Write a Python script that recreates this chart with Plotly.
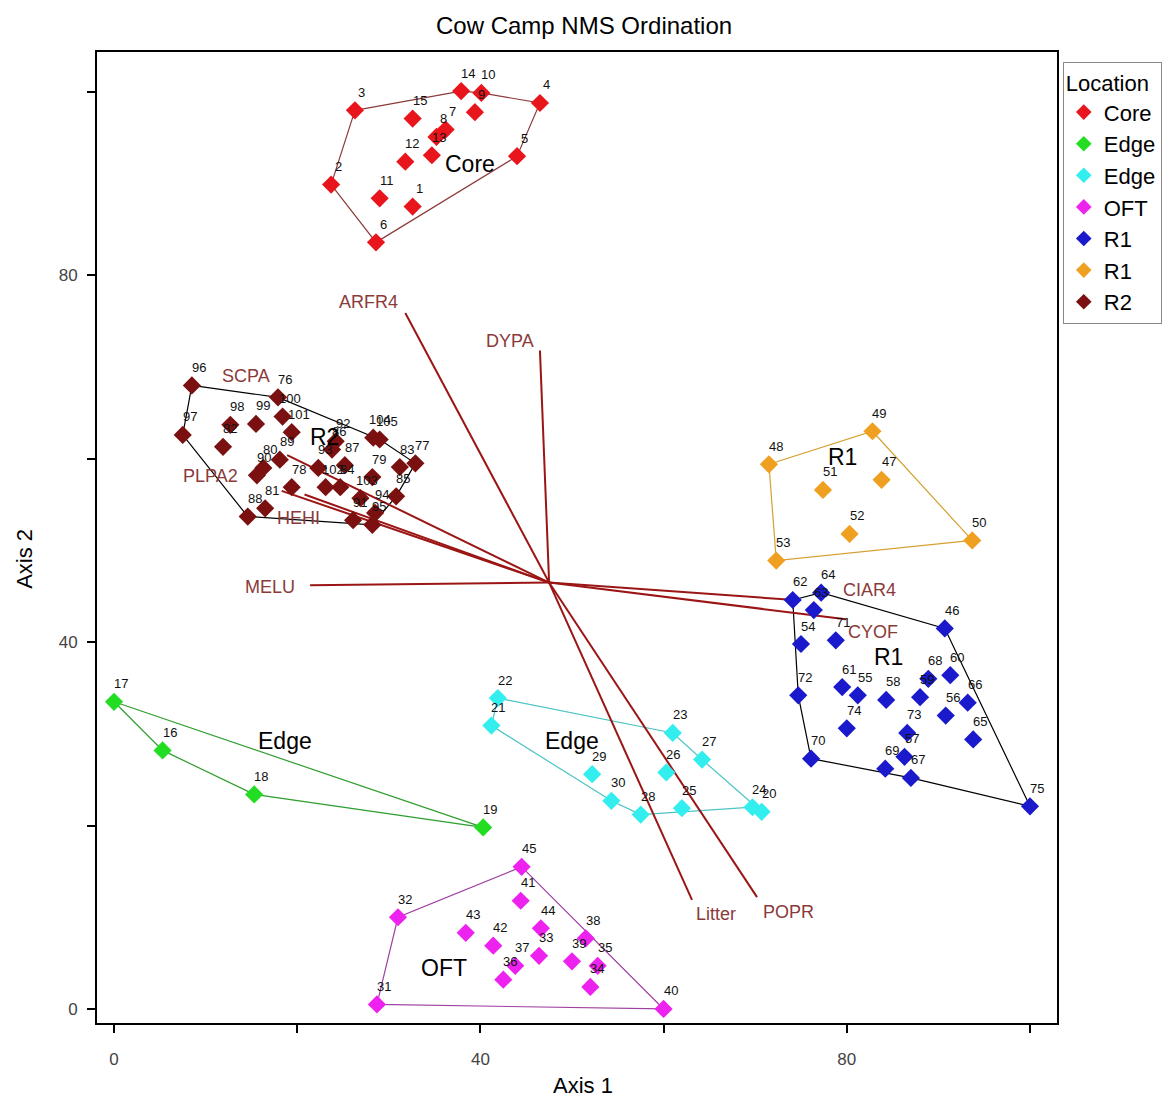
import plotly.graph_objects as go

# ---------------- data ----------------
core_ids = ["1","2","3","4","5","6","7","8","9","10","11","12","13","14","15"]
core_x = [32.6, 23.7, 26.3, 46.5, 44.0, 28.6, 36.2, 35.2, 39.4, 40.1, 29.0, 31.8, 34.7, 37.9, 32.6]
core_y = [87.5, 89.9, 98.0, 98.8, 93.0, 83.6, 95.9, 95.1, 97.8, 99.9, 88.4, 92.4, 93.1, 100.1, 97.1]
core_hull = ["3","14","10","4","5","6","2","3"]

edgeg_ids = ["16","17","18","19"]
edgeg_x = [5.3, 0.0, 15.3, 40.3]
edgeg_y = [28.2, 33.5, 23.4, 19.8]
edgeg_hull = ["17","19","18","16","17"]

edgec_ids = ["20","21","22","23","24","25","26","27","28","29","30"]
edgec_x = [70.7, 41.2, 41.9, 61.0, 69.7, 62.0, 60.3, 64.2, 57.5, 52.2, 54.3]
edgec_y = [21.5, 30.9, 33.9, 30.1, 22.0, 21.9, 25.8, 27.2, 21.2, 25.6, 22.7]
edgec_hull = ["22","23","27","20","24","28","30","21","22"]

oft_ids = ["31","32","33","34","35","36","37","38","39","40","41","42","43","44","45"]
oft_x = [28.7, 31.0, 46.4, 52.0, 52.8, 42.5, 43.8, 51.5, 50.0, 60.0, 44.4, 41.4, 38.4, 46.6, 44.5]
oft_y = [0.5, 10.0, 5.8, 2.4, 4.7, 3.2, 4.7, 7.7, 5.2, 0.0, 11.8, 6.9, 8.3, 8.8, 15.5]
oft_hull = ["45","40","31","32","45"]

r1b_ids = ["46","54","55","56","57","58","59","60","61","62","63","64","65","66","67","68","69","70","71","72","73","74","75"]
r1b_x = [90.7, 75.0, 81.2, 90.8, 86.3, 84.3, 88.0, 91.3, 79.5, 74.1, 76.4, 77.2, 93.8, 93.2, 87.0, 88.9, 84.2, 76.1, 78.8, 74.7, 86.6, 80.0, 100.0]
r1b_y = [41.5, 39.8, 34.2, 32.0, 27.5, 33.7, 34.0, 36.4, 35.1, 44.6, 43.5, 45.4, 29.4, 33.4, 25.2, 36.0, 26.2, 27.3, 40.2, 34.2, 30.1, 30.6, 22.1]
r1b_hull = ["62","64","46","75","67","70","72","62"]

r1o_ids = ["47","48","49","50","51","52","53"]
r1o_x = [83.8, 71.5, 82.8, 93.7, 77.4, 80.3, 72.3]
r1o_y = [57.7, 59.4, 63.0, 51.1, 56.6, 51.8, 48.9]
r1o_hull = ["48","49","50","53","48"]

r2_ids = ["76","77","78","79","80","81","82","83","84","85","86","87","88","89","90",
          "91","92","93","94","95","96","97","98","99","100","101","102","103","104","105"]
r2_x = [17.9, 32.9, 19.4, 28.2, 16.3, 16.5, 11.9, 31.2, 24.7, 30.8, 23.8, 25.2, 14.6, 18.1, 15.6,
        26.1, 24.2, 22.3, 28.5, 28.2, 8.5, 7.5, 12.7, 15.5, 18.4, 19.4, 23.1, 26.9, 28.3, 29.0]
r2_y = [66.7, 59.5, 56.9, 58.0, 59.0, 54.6, 61.3, 59.1, 56.9, 55.9, 61.0, 59.3, 53.7, 59.9, 58.2,
        53.3, 61.9, 59.0, 54.1, 52.8, 68.0, 62.6, 63.7, 63.8, 64.6, 62.9, 56.9, 55.7, 62.3, 62.1]
r2_hull = ["96","76","105","77","85","95","88","97","96"]

# biplot vectors (origin, tips, label positions)
vec_origin = (47.5, 46.5)
vec_names = ["ARFR4", "DYPA", "SCPA", "PLPA2", "HEHI", "MELU", "CIAR4", "CYOF", "Litter", "POPR"]
vec_x = [31.8, 46.5, 18.9, 18.3, 20.8, 21.4, 74.3, 79.9, 63.1, 70.2]
vec_y = [75.9, 71.8, 60.4, 56.5, 56.1, 46.2, 44.6, 42.5, 11.9, 12.2]
vec_lab_x = [27.8, 43.2, 14.4, 10.5, 20.1, 17.0, 82.5, 82.9, 65.7, 73.6]
vec_lab_y = [77.1, 72.8, 69.0, 58.1, 53.5, 46.0, 45.7, 41.1, 10.4, 10.6]

group_names = ["Core", "R2", "R1", "R1", "Edge", "Edge", "OFT"]
group_lab_x = [38.9, 23.0, 79.5, 84.5, 18.7, 50.0, 36.0]
group_lab_y = [92.1, 62.4, 60.2, 38.4, 29.2, 29.2, 4.5]

x_ticks = [0, 20, 40, 60, 80, 100]
x_ticktext = ["0", "", "40", "", "80", ""]
y_ticks = [0, 20, 40, 60, 80, 100]
y_ticktext = ["0", "", "40", "", "80", ""]

# ---------------- figure ----------------
FONT = "Arial, Liberation Sans, sans-serif"
groups = [
    ("Core", core_ids, core_x, core_y, core_hull, "#E8161C", "#8B3A3A"),
    ("Edge", edgeg_ids, edgeg_x, edgeg_y, edgeg_hull, "#22DD22", "#2E9E2E"),
    ("Edge", edgec_ids, edgec_x, edgec_y, edgec_hull, "#33EEEE", "#4CC4C4"),
    ("OFT", oft_ids, oft_x, oft_y, oft_hull, "#EE22EE", "#A040A0"),
    ("R1", r1b_ids, r1b_x, r1b_y, r1b_hull, "#1A1ACC", "#000000"),
    ("R1", r1o_ids, r1o_x, r1o_y, r1o_hull, "#F0A020", "#D4A030"),
    ("R2", r2_ids, r2_x, r2_y, r2_hull, "#7A1010", "#000000"),
]

fig = go.Figure()

# hulls
for name, ids, xs, ys, hull, mcol, lcol in groups:
    idx = {k: i for i, k in enumerate(ids)}
    hx = [xs[idx[k]] for k in hull]
    hy = [ys[idx[k]] for k in hull]
    fig.add_trace(go.Scatter(x=hx, y=hy, mode="lines", line=dict(color=lcol, width=1.2),
                             showlegend=False, hoverinfo="skip"))

# vectors
for n, vx, vy in zip(vec_names, vec_x, vec_y):
    fig.add_trace(go.Scatter(x=[vec_origin[0], vx], y=[vec_origin[1], vy], mode="lines",
                             line=dict(color="#9B1515", width=2), showlegend=False, hoverinfo="skip"))

# points
annotations = []
for name, ids, xs, ys, hull, mcol, lcol in groups:
    fig.add_trace(go.Scatter(x=xs, y=ys, mode="markers", name=name,
                             marker=dict(symbol="diamond", size=14, color=mcol,
                                         line=dict(width=0))))
    for t, x, y in zip(ids, xs, ys):
        annotations.append(dict(x=x, y=y, text=t, showarrow=False, xshift=7, yshift=18,
                                font=dict(family=FONT, size=13, color="#111111")))

for n, lx, ly in zip(vec_names, vec_lab_x, vec_lab_y):
    annotations.append(dict(x=lx, y=ly, text=n, showarrow=False,
                            font=dict(family=FONT, size=18, color="#8B3A3A")))

for n, gx, gy in zip(group_names, group_lab_x, group_lab_y):
    annotations.append(dict(x=gx, y=gy, text=n, showarrow=False,
                            font=dict(family=FONT, size=23, color="#000000")))

# title and axis titles (placed in paper coordinates)
annotations.append(dict(x=0.507, y=1.0278, xref="paper", yref="paper", text="Cow Camp NMS Ordination",
                        showarrow=False, xanchor="center", yanchor="middle",
                        font=dict(family=FONT, size=24, color="#000000")))
annotations.append(dict(x=0.506, y=-0.0639, xref="paper", yref="paper", text="Axis 1",
                        showarrow=False, xanchor="center", yanchor="middle",
                        font=dict(family=FONT, size=22, color="#000000")))
annotations.append(dict(x=-0.075, y=0.478, xref="paper", yref="paper", text="Axis 2", textangle=-90,
                        showarrow=False, xanchor="center", yanchor="middle",
                        font=dict(family=FONT, size=22, color="#000000")))

# the page body adds an 8px offset, so margins are reduced by 8px at left/top
fig.update_layout(
    width=1173, height=1099,
    margin=dict(l=89, r=124, t=44, b=84, autoexpand=False),
    paper_bgcolor="white", plot_bgcolor="white",
    font=dict(family=FONT, color="#000000"),
    showlegend=True,
    legend=dict(x=1.006, y=0.99, xanchor="left", yanchor="top",
                bordercolor="#888888", borderwidth=1, bgcolor="white",
                title=dict(text="Location", font=dict(family=FONT, size=22, color="#000")),
                font=dict(family=FONT, size=22, color="#000"),
                itemsizing="constant", tracegroupgap=0),
    annotations=annotations,
)

fig.update_xaxes(range=[-1.86, 102.95], tickvals=x_ticks, ticktext=x_ticktext, automargin=False,
                 showgrid=False, zeroline=False, showline=True, mirror=True,
                 linecolor="black", linewidth=2, ticks="outside", ticklen=8, tickwidth=2,
                 tickcolor="black", ticklabelstandoff=12,
                 tickfont=dict(family=FONT, size=17, color="#444444"))
fig.update_yaxes(range=[-1.53, 104.36], tickvals=y_ticks, ticktext=y_ticktext, automargin=False,
                 showgrid=False, zeroline=False, showline=True, mirror=True,
                 linecolor="black", linewidth=2, ticks="outside", ticklen=8, tickwidth=2,
                 tickcolor="black", ticklabelstandoff=6,
                 tickfont=dict(family=FONT, size=17, color="#444444"))

fig.write_html("out.html")
